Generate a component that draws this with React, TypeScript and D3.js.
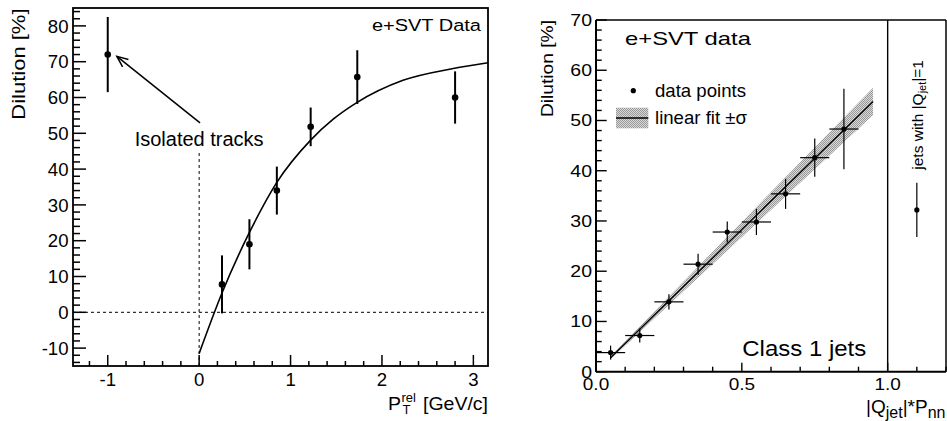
import React from 'react';
import * as d3 from 'd3';

const FONT = '"Liberation Sans", Arial, Helvetica, sans-serif';

// ---------- Left panel data ----------
const leftX = [-1, 0.25, 0.55, 0.85, 1.22, 1.73, 2.8];
const leftY = [72, 7.8, 19, 34, 51.8, 65.7, 60];
const leftErr = [10.5, 8.1, 7, 6.7, 5.4, 7.5, 7.3];
const leftFitX = [0, 0.25, 0.55, 0.85, 1.22, 1.47, 1.72, 2.23, 2.78, 3.16];
const leftFitY = [-11.5, 5.4, 22.3, 36.3, 48.1, 54, 58.5, 64.8, 68.1, 69.7];
const leftXTicks = [-1, 0, 1, 2, 3];
const leftYTicks = [-10, 0, 10, 20, 30, 40, 50, 60, 70, 80];
const arrowFrom = [0.01, 52.9];
const arrowTo = [-0.9, 71.5];
const isoLabelPos = [0.0, 46.4];
const isoLineTop = 44.5;

// ---------- Right panel data ----------
const rightX = [0.05, 0.15, 0.25, 0.35, 0.45, 0.55, 0.65, 0.75, 0.85];
const rightY = [3.8, 7.2, 13.9, 21.4, 27.8, 29.8, 35.4, 42.6, 48.3];
const rightYErr = [1.4, 1.4, 1.5, 2.1, 2.1, 2.6, 3.0, 3.8, 8.0];
const rightXErr = [0.05, 0.05, 0.05, 0.05, 0.05, 0.05, 0.05, 0.05, 0.05];
const fitRX = [0.05, 0.95];
const fitRY = [2.8, 53.8];
const fitRLo = [2.5, 51.1];
const fitRHi = [3.1, 56.5];
const q1X = [1.1];
const q1Y = [32.2];
const q1Err = [5.4];
const rightXTicks = [0, 0.5, 1.0];
const rightXTickLabels = ['0.0', '0.5', '1.0'];
const rightYTicks = [0, 10, 20, 30, 40, 50, 60, 70];

function T({ x, y, size, sy = 1, anchor = 'start', rotate = 0, children }: any) {
  return (
    <text
      transform={`translate(${x},${y}) rotate(${rotate}) scale(1,${sy})`}
      fontSize={size}
      textAnchor={anchor}
      fontFamily={FONT}
      fill="#000"
    >
      {children}
    </text>
  );
}

export default function App() {
  // Left scales
  const xL = d3.scaleLinear().domain([-1.38, 3.16]).range([73, 488]);
  const yL = d3.scaleLinear().domain([-15, 85]).range([366, 8]);
  // Right scales
  const xR = d3.scaleLinear().domain([0, 1.2]).range([596, 946]);
  const yR = d3.scaleLinear().domain([0, 70]).range([371.7, 20]);

  const leftMinorY = d3.range(-7, 43).map((i) => i * 2).filter((v) => v % 10 !== 0);
  const leftMinorX = d3.range(-6, 16).map((i) => +(i * 0.2).toFixed(2)).filter((v) => Math.abs(v - Math.round(v)) > 1e-6);
  const rightMinorY = d3.range(0, 36).map((i) => i * 2).filter((v) => v % 10 !== 0);
  const rightMinorX = d3.range(0, 13).map((i) => +(i * 0.1).toFixed(2)).filter((v) => Math.abs(v * 2 - Math.round(v * 2)) > 1e-6);

  const fitLine = d3
    .line<number>()
    .x((_, i) => xL(leftFitX[i]))
    .y((d) => yL(d))
    .curve(d3.curveMonotoneX);

  const bandArea = d3
    .area<number>()
    .x((_, i) => xR(fitRX[i]))
    .y0((_, i) => yR(fitRLo[i]))
    .y1((_, i) => yR(fitRHi[i]));

  const rFitLine = d3
    .line<number>()
    .x((_, i) => xR(fitRX[i]))
    .y((d) => yR(d));

  // arrow geometry
  const ax0 = xL(arrowFrom[0]);
  const ay0 = yL(arrowFrom[1]);
  const ax1 = xL(arrowTo[0]);
  const ay1 = yL(arrowTo[1]);
  const ang = Math.atan2(ay0 - ay1, ax0 - ax1);
  const hl = 12;
  const ha = 0.4;
  const h1 = [ax1 + hl * Math.cos(ang + ha), ay1 + hl * Math.sin(ang + ha)];
  const h2 = [ax1 + hl * Math.cos(ang - ha), ay1 + hl * Math.sin(ang - ha)];

  return (
    <svg
      width={947}
      height={421}
      style={{ position: 'absolute', left: 0, top: 0, background: '#fff' }}
    >
      <defs>
        <pattern id="hatch" width="2" height="2" patternUnits="userSpaceOnUse">
          <rect width="2" height="2" fill="#dadada" />
          <rect width="1" height="1" fill="#989898" />
          <rect x="1" y="1" width="1" height="1" fill="#989898" />
        </pattern>
      </defs>
      <rect width={947} height={421} fill="#fff" />

      {/* ================= LEFT PANEL ================= */}
      <line x1={xL(-1.38)} x2={xL(3.16)} y1={yL(0)} y2={yL(0)} stroke="#000" strokeWidth={1} strokeDasharray="3,3" />
      <line x1={xL(0)} x2={xL(0)} y1={yL(isoLineTop)} y2={yL(-15)} stroke="#000" strokeWidth={1} strokeDasharray="3,3" />

      <path d={fitLine(leftFitY) || ''} fill="none" stroke="#000" strokeWidth={1.6} />

      {leftX.map((x, i) => (
        <g key={'l' + i}>
          <line x1={xL(x)} x2={xL(x)} y1={yL(leftY[i] - leftErr[i])} y2={yL(leftY[i] + leftErr[i])} stroke="#000" strokeWidth={2} />
          <circle cx={xL(x)} cy={yL(leftY[i])} r={3.3} fill="#000" />
        </g>
      ))}

      <line x1={ax0} y1={ay0} x2={ax1} y2={ay1} stroke="#000" strokeWidth={1.5} />
      <polyline points={`${h1[0]},${h1[1]} ${ax1},${ay1} ${h2[0]},${h2[1]}`} fill="none" stroke="#000" strokeWidth={1.5} />

      <rect x={73} y={8} width={415} height={358} fill="none" stroke="#000" strokeWidth={1.8} />

      {leftYTicks.map((v) => (
        <g key={'ly' + v}>
          <line x1={73} x2={86} y1={yL(v)} y2={yL(v)} stroke="#000" strokeWidth={1.5} />
          <T x={68.5} y={yL(v) + 6.7} size={18.6} anchor="end">{v}</T>
        </g>
      ))}
      {leftMinorY.map((v) => (
        <line key={'lmy' + v} x1={73} x2={80} y1={yL(v)} y2={yL(v)} stroke="#000" strokeWidth={1.5} />
      ))}
      {leftXTicks.map((v) => (
        <g key={'lx' + v}>
          <line x1={xL(v)} x2={xL(v)} y1={366} y2={355} stroke="#000" strokeWidth={1.5} />
          <T x={xL(v)} y={385.7} size={18.6} anchor="middle">{v}</T>
        </g>
      ))}
      {leftMinorX.map((v) => (
        <line key={'lmx' + v} x1={xL(v)} x2={xL(v)} y1={366} y2={361} stroke="#000" strokeWidth={1.5} />
      ))}

      <T x={24.5} y={8.5} size={22} sy={0.8} anchor="end" rotate={-90}>Dilution [%]</T>
      <T x={481} y={30.7} size={20} sy={0.86} anchor="end">e+SVT Data</T>
      <T x={xL(isoLabelPos[0])} y={yL(isoLabelPos[1])} size={20} anchor="middle">Isolated tracks</T>
      <T x={388} y={410} size={19.5} sy={0.92}>P</T>
      <T x={401.5} y={401.5} size={13}>rel</T>
      <T x={402.5} y={414} size={13}>T</T>
      <T x={488} y={410} size={19.5} sy={0.92} anchor="end">[GeV/c]</T>

      {/* ================= RIGHT PANEL ================= */}
      <path d={bandArea(fitRX) || ''} fill="url(#hatch)" stroke="none" />
      <path d={rFitLine(fitRY) || ''} fill="none" stroke="#000" strokeWidth={1.4} />

      {rightX.map((x, i) => (
        <g key={'r' + i}>
          <line x1={xR(x - rightXErr[i])} x2={xR(x + rightXErr[i])} y1={yR(rightY[i])} y2={yR(rightY[i])} stroke="#000" strokeWidth={1.2} />
          <line x1={xR(x)} x2={xR(x)} y1={yR(rightY[i] - rightYErr[i])} y2={yR(rightY[i] + rightYErr[i])} stroke="#000" strokeWidth={1.2} />
          <circle cx={xR(x)} cy={yR(rightY[i])} r={2.6} fill="#000" />
        </g>
      ))}

      {q1X.map((x, i) => (
        <g key={'q' + i}>
          <line x1={xR(x)} x2={xR(x)} y1={yR(q1Y[i] - q1Err[i])} y2={yR(q1Y[i] + q1Err[i])} stroke="#000" strokeWidth={1.2} />
          <circle cx={xR(x)} cy={yR(q1Y[i])} r={2.6} fill="#000" />
        </g>
      ))}

      <line x1={xR(1)} x2={xR(1)} y1={yR(0)} y2={yR(70)} stroke="#000" strokeWidth={1.4} />

      <line x1={596} x2={946} y1={20} y2={20} stroke="#000" strokeWidth={1.5} />
      <line x1={946} x2={946} y1={20} y2={371.7} stroke="#000" strokeWidth={1.5} />
      <line x1={596} x2={946} y1={371.7} y2={371.7} stroke="#000" strokeWidth={2} />
      <line x1={596} x2={596} y1={20} y2={371.7} stroke="#000" strokeWidth={2} />

      {rightYTicks.map((v) => (
        <g key={'ry' + v}>
          <line x1={596} x2={606.7} y1={yR(v)} y2={yR(v)} stroke="#000" strokeWidth={1.4} />
          <T x={592} y={yR(v) + 5.8} size={19.5} sy={0.82} anchor="end">{v}</T>
        </g>
      ))}
      {rightMinorY.map((v) => (
        <line key={'rmy' + v} x1={596} x2={601.7} y1={yR(v)} y2={yR(v)} stroke="#000" strokeWidth={1.4} />
      ))}
      {rightXTicks.map((v, i) => (
        <g key={'rx' + v}>
          <line x1={xR(v)} x2={xR(v)} y1={371.7} y2={362.7} stroke="#000" strokeWidth={1.4} />
          <T x={xR(v)} y={390} size={19} sy={0.9} anchor="middle">{rightXTickLabels[i]}</T>
        </g>
      ))}
      {rightMinorX.map((v) => (
        <line key={'rmx' + v} x1={xR(v)} x2={xR(v)} y1={371.7} y2={366.7} stroke="#000" strokeWidth={1.4} />
      ))}

      <T x={553} y={20} size={19.2} sy={0.88} anchor="end" rotate={-90}>Dilution [%]</T>
      <T x={625} y={45} size={23.8} sy={0.8}>e+SVT data</T>

      <circle cx={633.3} cy={90.7} r={2.6} fill="#000" />
      <T x={655} y={97} size={18.6}>data points</T>
      <rect x={616} y={107.7} width={32.3} height={20.6} fill="url(#hatch)" />
      <line x1={616} x2={648.3} y1={118} y2={118} stroke="#000" strokeWidth={1.4} />
      <T x={655} y={123.5} size={18.6}>linear fit ±σ</T>

      <T x={742.3} y={356} size={24} sy={0.93}>Class 1 jets</T>

      <text
        transform="translate(923,60) rotate(-90)"
        fontSize={15.5}
        textAnchor="end"
        fontFamily={FONT}
      >
        jets with |Q<tspan fontSize={11} dy={3}>jet</tspan>
        <tspan dy={-3}>|=1</tspan>
      </text>

      <text x={866} y={413} fontSize={19} fontFamily={FONT}>
        |Q<tspan fontSize={16} dy={5}>jet</tspan>
        <tspan dy={-5}>|*P</tspan>
        <tspan fontSize={16} dy={5}>nn</tspan>
      </text>
    </svg>
  );
}
